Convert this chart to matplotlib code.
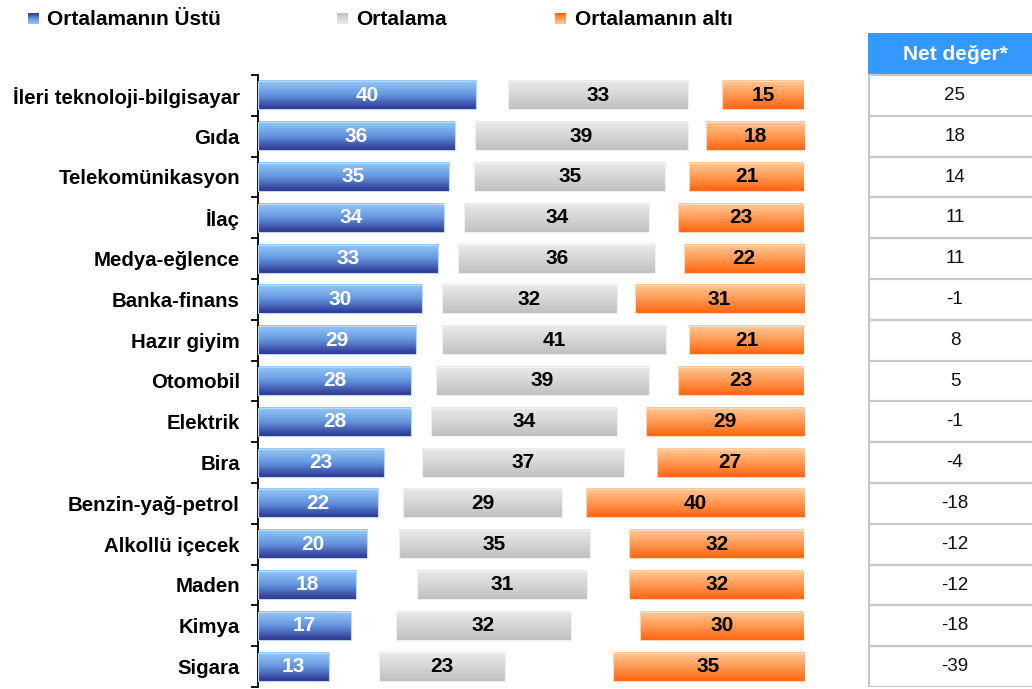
import numpy as np
import matplotlib
matplotlib.use("Agg")
import matplotlib.pyplot as plt
from matplotlib.colors import LinearSegmentedColormap
from matplotlib.patches import Rectangle

plt.rcParams['font.family'] = ['Liberation Sans', 'DejaVu Sans']

kategoriler = ["İleri teknoloji-bilgisayar", "Gıda", "Telekomünikasyon", "İlaç",
               "Medya-eğlence", "Banka-finans", "Hazır giyim", "Otomobil", "Elektrik",
               "Bira", "Benzin-yağ-petrol", "Alkollü içecek", "Maden", "Kimya", "Sigara"]
ustu = [40, 36, 35, 34, 33, 30, 29, 28, 28, 23, 22, 20, 18, 17, 13]
ortalama = [33, 39, 35, 34, 36, 32, 41, 39, 34, 37, 29, 35, 31, 32, 23]
alti = [15, 18, 21, 23, 22, 31, 21, 23, 29, 27, 40, 32, 32, 30, 35]
net = [25, 18, 14, 11, 11, -1, 8, 5, -1, -4, -18, -12, -12, -18, -39]
# invisible spacer series between the blue and gray segments
bosluk = [5.8, 3.7, 4.6, 3.7, 3.7, 3.7, 4.7, 4.6, 3.7, 7.0, 4.6, 5.8, 11.2, 8.3, 9.2]
seriler = ["Ortalamanın Üstü", "Ortalama", "Ortalamanın altı"]

cmaps = {
    "mavi": LinearSegmentedColormap.from_list("m", ["#94CAFA", "#6496DE", "#2D3592"]),
    "gri": LinearSegmentedColormap.from_list("g", ["#EAEAEA", "#D6D6D6", "#C0C0C0"]),
    "turuncu": LinearSegmentedColormap.from_list("t", ["#FFCA98", "#FF9A55", "#FF6410"]),
}
kenar = {"mavi": "#B8D8F8", "gri": "#F0F0F0", "turuncu": "#FFD8B8"}
grad = np.linspace(0, 1, 64).reshape(-1, 1)

W, H = 1032, 689
fig = plt.figure(figsize=(W / 100, H / 100), dpi=100)
ax = fig.add_axes([258 / W, 1 - 687 / H, 546 / W, 612 / H])

y = np.arange(len(kategoriler))
ust = np.array(ustu, float)
ort = np.array(ortalama, float)
alt = np.array(alti, float)
bos = np.array(bosluk, float)
h = 0.69

b1 = ax.barh(y, ust, height=h, color="none")
b2 = ax.barh(y, ort, left=ust + bos, height=h, color="none")
b3 = ax.barh(y, alt, left=100 - alt, height=h, color="none")


def boya(bars, ad, degerler, renk):
    for r, v in zip(bars, degerler):
        x0, w = r.get_x(), r.get_width()
        y0, hh = r.get_y(), r.get_height()
        ax.imshow(grad, cmap=cmaps[ad], aspect="auto", origin="lower",
                  extent=(x0, x0 + w, y0, y0 + hh), interpolation="bilinear", zorder=2)
        ax.add_patch(Rectangle((x0, y0), w, hh, fill=False, edgecolor=kenar[ad],
                               lw=0.8, zorder=3))
        ax.text(x0 + w / 2, y0 + hh / 2, str(v), ha="center", va="center",
                color=renk, fontsize=15, fontweight="bold", zorder=4)


boya(b1, "mavi", ustu, "white")
boya(b2, "gri", ortalama, "black")
boya(b3, "turuncu", alti, "black")

ax.set_xlim(0, 100)
ax.set_ylim(len(kategoriler) - 0.5, -0.5)
for s in ["top", "right", "bottom"]:
    ax.spines[s].set_visible(False)
ax.spines["left"].set_linewidth(1.3)
ax.set_xticks([])
ax.set_yticks(y)
ax.set_yticklabels(kategoriler, fontsize=14.7, fontweight="bold")
ax.set_yticks(np.arange(-0.5, len(kategoriler)), minor=True)
ax.tick_params(axis="y", which="major", length=0, pad=13)
ax.tick_params(axis="y", which="minor", length=5, width=1.3, direction="out")

# Net değer table
tab = fig.add_axes([868 / W, 1 - 687 / H, 175 / W, 654 / H])
tab.set_xlim(0, 1)
tab.set_ylim(len(kategoriler) - 0.5, -1.53)
tab.axis("off")
tab.add_patch(Rectangle((0, -1.53), 1, 1.03, color="#3399FF", lw=0))
tab.text(0.497, -1.0, "Net değer*", ha="center", va="center", color="white",
         fontsize=15, fontweight="bold")
for i, v in enumerate(net):
    tab.text(0.497, i, str(v), ha="center", va="center", fontsize=13.5, color="#111111")
for k in np.arange(-0.5, len(kategoriler)):
    tab.axhline(k, color="#C8C8C8", lw=1.6)
tab.plot([0.004, 0.004], [-0.5, len(kategoriler) - 0.5], color="#C8C8C8", lw=1.6)

# legend
leg_x = [28, 337, 555]
txt_x = [47, 356, 575]
for ad, lx, tx, s in zip(["mavi", "gri", "turuncu"], leg_x, txt_x, seriler):
    la = fig.add_axes([lx / W, 1 - 24 / H, 11 / W, 11 / H])
    la.imshow(grad[::-1], cmap=cmaps[ad], aspect="auto", interpolation="bilinear")
    la.axis("off")
    fig.text(tx / W, 1 - 25 / H, s, fontsize=15, fontweight="bold", va="baseline")

fig.savefig("out.png", dpi=100)
